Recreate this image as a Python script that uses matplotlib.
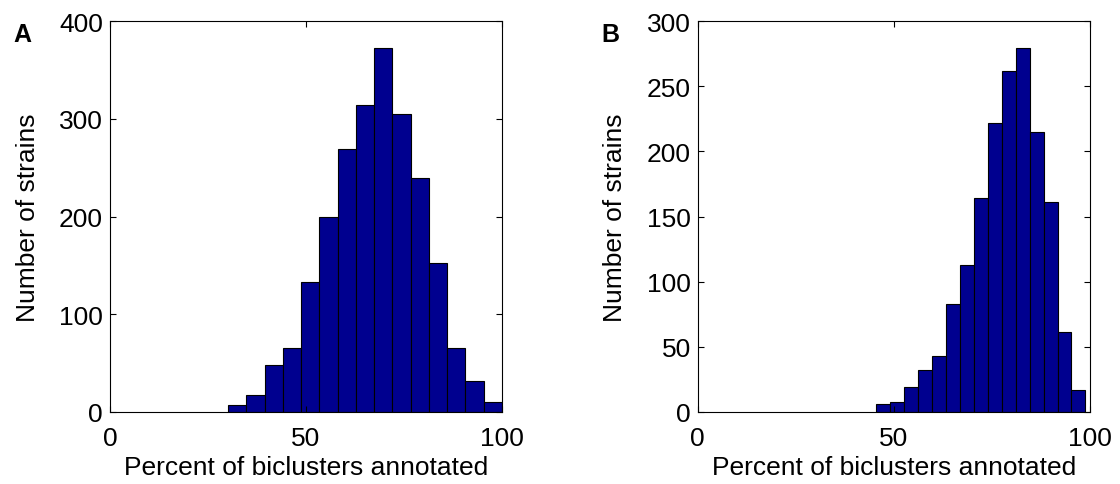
import numpy as np
import matplotlib
matplotlib.use("Agg")
import matplotlib.pyplot as plt

plt.rcParams['font.family'] = ['Liberation Sans', 'DejaVu Sans']

# panel A histogram: 15 bins between 30.15 and 100
a_lo, a_hi = 30.15, 100.0
a_counts = [7, 17, 48, 65, 133, 199, 269, 314, 372, 305, 239, 152, 65, 32, 10]

# panel B histogram: 15 bins between 45.45 and 98.9
b_lo, b_hi = 45.45, 98.9
b_counts = [6, 8, 19, 32, 43, 83, 113, 164, 222, 262, 279, 215, 161, 61, 17]

a_yticks = [0, 100, 200, 300, 400]
b_yticks = [0, 50, 100, 150, 200, 250, 300]
xticks = [0, 50, 100]

bar_color = '#00008f'
fs = 19

fig = plt.figure(figsize=(11.2, 4.85), dpi=100)
axA = fig.add_axes([0.0982, 0.1485, 0.35, 0.806])
axB = fig.add_axes([0.623, 0.1485, 0.35, 0.806])

panels = [
    (axA, a_lo, a_hi, a_counts, a_yticks, 'A', 0.0115),
    (axB, b_lo, b_hi, b_counts, b_yticks, 'B', 0.537),
]

for ax, lo, hi, counts, yt, letter, lx in panels:
    edges = np.linspace(lo, hi, len(counts) + 1)
    ax.bar(edges[:-1], counts, width=np.diff(edges), align='edge',
           color=bar_color, edgecolor='black', linewidth=0.8)
    ax.set_xlim(0, 100)
    ax.set_ylim(yt[0], yt[-1])
    ax.set_xticks(xticks)
    ax.set_yticks(yt)
    ax.tick_params(direction='in', top=True, right=True, length=4,
                   width=0.8, labelsize=fs)
    ax.tick_params(axis='x', pad=10)
    ax.tick_params(axis='y', pad=5)
    for s in ax.spines.values():
        s.set_linewidth(0.8)
    ax.set_xlabel('Percent of biclusters annotated', fontsize=fs, labelpad=4)
    ax.set_ylabel('Number of strains', fontsize=fs, labelpad=14)
    fig.text(lx, 0.952, letter, fontsize=18, fontweight='bold', va='top')

fig.savefig('out.png', dpi=100)
